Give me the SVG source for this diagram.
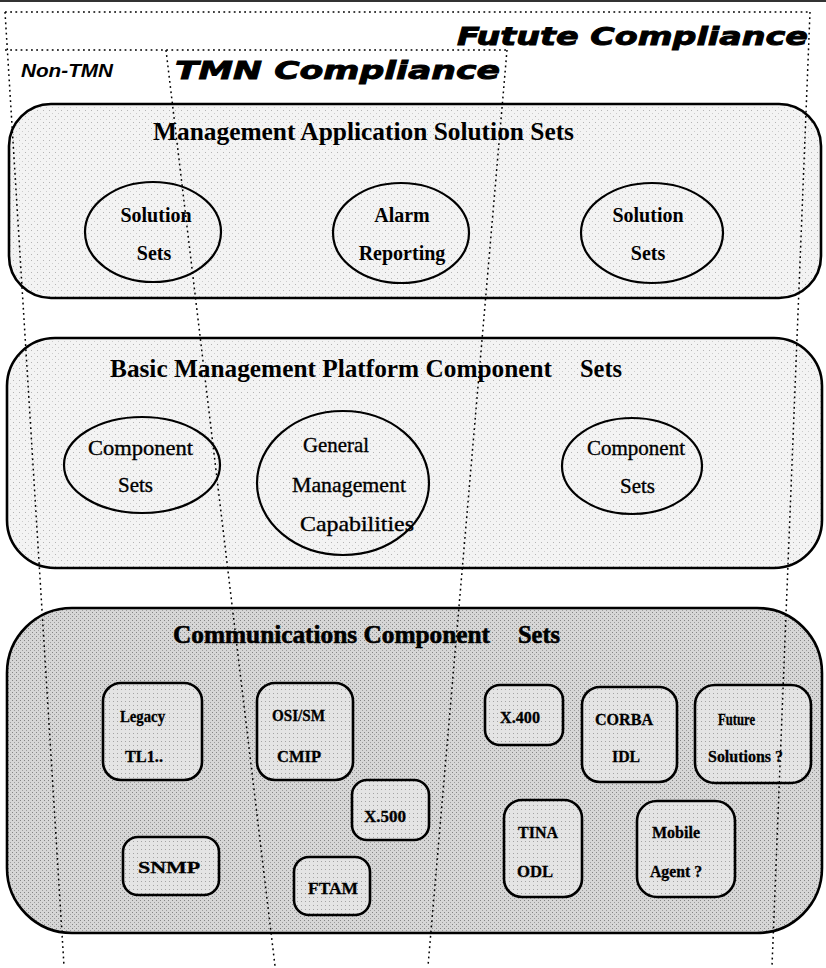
<svg xmlns="http://www.w3.org/2000/svg" width="826" height="968" viewBox="0 0 826 968">
  <defs>
    <!-- light speckled shading for the upper layers -->
    <pattern id="speckleLight" width="6" height="6" patternUnits="userSpaceOnUse">
      <rect width="6" height="6" fill="#f3f3f3"/>
      <rect x="1" y="2" width="1" height="1" fill="#b4b4b4"/>
      <rect x="4" y="5" width="1" height="1" fill="#cccccc"/>
    </pattern>
    <!-- denser halftone for the communications layer -->
    <pattern id="speckleDark" width="4" height="4" patternUnits="userSpaceOnUse">
      <rect width="4" height="4" fill="#d6d6d6"/>
      <rect x="0" y="0" width="1" height="1" fill="#848484"/>
      <rect x="2" y="2" width="1" height="1" fill="#9c9c9c"/>
    </pattern>
    <pattern id="speckleBox" width="4" height="4" patternUnits="userSpaceOnUse">
      <rect width="4" height="4" fill="#e4e4e4"/>
      <rect x="1" y="1" width="1" height="1" fill="#a4a4a4"/>
    </pattern>
    <style>
      .layer { stroke: #000; stroke-width: 2.6; }
      .set { fill: none; stroke: #000; stroke-width: 2.2; }
      .proto { fill: url(#speckleBox); stroke: #000; stroke-width: 2.6; }
      .title { font-family: "Liberation Serif", "Times New Roman", serif; font-weight: bold; font-size: 25px; fill: #000; }
      .heavy { stroke: #000; stroke-width: 0.6; }
      .zone { font-family: "DejaVu Sans", "Verdana", sans-serif; font-weight: bold; font-style: italic; fill: #000; stroke: #000; stroke-width: 0.9; }
      .narrow { font-family: "Liberation Sans", Arial, sans-serif; font-weight: bold; font-style: italic; font-size: 19px; fill: #000; }
      .lbl { font-family: "Liberation Serif", "Times New Roman", serif; font-weight: bold; font-size: 20px; fill: #000; text-anchor: middle; }
      .lblr { font-family: "Liberation Serif", "Times New Roman", serif; font-size: 21px; fill: #000; stroke: #000; stroke-width: 0.35; }
      .sm { font-family: "Liberation Serif", "Times New Roman", serif; font-weight: bold; font-size: 16px; fill: #000; stroke: #000; stroke-width: 0.3; }
      .bound { fill: none; stroke: #000; stroke-width: 1.5; stroke-dasharray: 1.8 3.4; }
    </style>
  </defs>

  <rect width="826" height="968" fill="#ffffff"/>
  <line x1="0" y1="1" x2="826" y2="1" stroke="#333" stroke-width="2"/>

  <!-- compliance zone headings -->
  <g id="zone-labels">
    <text class="zone" x="457" y="45" font-size="24" textLength="351" lengthAdjust="spacingAndGlyphs">Futute Compliance</text>
    <text class="narrow" x="21" y="77" textLength="92" lengthAdjust="spacingAndGlyphs">Non-TMN</text>
    <text class="zone" x="175" y="79" font-size="25" textLength="325" lengthAdjust="spacingAndGlyphs">TMN Compliance</text>
  </g>

  <!-- layer 1: management applications -->
  <g id="management-application-solution-sets">
    <rect class="layer" x="9" y="104" width="812" height="194" rx="42" ry="42" fill="url(#speckleLight)"/>
    <text class="title" x="153" y="140" font-size="26" textLength="421" lengthAdjust="spacingAndGlyphs">Management Application Solution Sets</text>
  </g>
  <g id="solution-sets-left">
    <ellipse class="set" cx="153" cy="232" rx="68" ry="50"/>
    <text class="lbl" x="156" y="222">Solution</text>
    <text class="lbl" x="154" y="260">Sets</text>
  </g>
  <g id="alarm-reporting">
    <ellipse class="set" cx="401" cy="233" rx="68" ry="50"/>
    <text class="lbl" x="402" y="222">Alarm</text>
    <text class="lbl" x="402" y="260">Reporting</text>
  </g>
  <g id="solution-sets-right">
    <ellipse class="set" cx="652" cy="233" rx="71" ry="50"/>
    <text class="lbl" x="648" y="222">Solution</text>
    <text class="lbl" x="648" y="260">Sets</text>
  </g>

  <!-- layer 2: platform components -->
  <g id="basic-management-platform-component-sets">
    <rect class="layer" x="7" y="338" width="815" height="230" rx="48" ry="48" fill="url(#speckleLight)"/>
    <text class="title" x="110" y="377" textLength="442" lengthAdjust="spacingAndGlyphs">Basic Management Platform Component</text>
    <text class="title" x="580" y="377" textLength="42" lengthAdjust="spacingAndGlyphs">Sets</text>
  </g>
  <g id="component-sets-left">
    <ellipse class="set" cx="142" cy="465" rx="78" ry="48"/>
    <text class="lblr" x="88" y="455" textLength="105" lengthAdjust="spacingAndGlyphs">Component</text>
    <text class="lblr" x="118" y="492" textLength="35" lengthAdjust="spacingAndGlyphs">Sets</text>
  </g>
  <g id="general-management-capabilities">
    <ellipse class="set" cx="343" cy="483" rx="86" ry="72"/>
    <text class="lblr" x="303" y="452" textLength="66" lengthAdjust="spacingAndGlyphs">General</text>
    <text class="lblr" x="292" y="492" textLength="114" lengthAdjust="spacingAndGlyphs">Management</text>
    <text class="lblr" x="300" y="531" textLength="114" lengthAdjust="spacingAndGlyphs">Capabilities</text>
  </g>
  <g id="component-sets-right">
    <ellipse class="set" cx="632" cy="466" rx="70" ry="48"/>
    <text class="lblr" x="587" y="455" textLength="98" lengthAdjust="spacingAndGlyphs">Component</text>
    <text class="lblr" x="620" y="493" textLength="35" lengthAdjust="spacingAndGlyphs">Sets</text>
  </g>

  <!-- layer 3: communication protocols -->
  <g id="communications-component-sets">
    <rect class="layer" x="7" y="608" width="815" height="325" rx="65" ry="65" fill="url(#speckleDark)"/>
    <text class="title heavy" x="173" y="643" textLength="317" lengthAdjust="spacingAndGlyphs">Communications Component</text>
    <text class="title heavy" x="518" y="643" textLength="42" lengthAdjust="spacingAndGlyphs">Sets</text>
  </g>
  <g id="legacy-tl1">
    <rect class="proto" x="103" y="683" width="99" height="97" rx="18"/>
    <text class="sm" x="120" y="722" font-size="15" textLength="45" lengthAdjust="spacingAndGlyphs">Legacy</text>
    <text class="sm" x="125" y="762" textLength="38" lengthAdjust="spacingAndGlyphs">TL1..</text>
  </g>
  <g id="osi-sm-cmip">
    <rect class="proto" x="257" y="683" width="96" height="97" rx="18"/>
    <text class="sm" x="272" y="721" textLength="53" lengthAdjust="spacingAndGlyphs">OSI/SM</text>
    <text class="sm" x="277" y="762" textLength="44" lengthAdjust="spacingAndGlyphs">CMIP</text>
  </g>
  <g id="x500">
    <rect class="proto" x="352" y="780" width="77" height="60" rx="15"/>
    <text class="sm" x="364" y="822" textLength="42" lengthAdjust="spacingAndGlyphs">X.500</text>
  </g>
  <g id="snmp">
    <rect class="proto" x="123" y="837" width="96" height="58" rx="15"/>
    <text class="sm" x="138" y="873" textLength="62" lengthAdjust="spacingAndGlyphs">SNMP</text>
  </g>
  <g id="ftam">
    <rect class="proto" x="294" y="857" width="76" height="58" rx="15"/>
    <text class="sm" x="308" y="894" textLength="50" lengthAdjust="spacingAndGlyphs">FTAM</text>
  </g>
  <g id="x400">
    <rect class="proto" x="485" y="685" width="78" height="60" rx="15"/>
    <text class="sm" x="500" y="723" textLength="40" lengthAdjust="spacingAndGlyphs">X.400</text>
  </g>
  <g id="corba-idl">
    <rect class="proto" x="582" y="687" width="95" height="95" rx="18"/>
    <text class="sm" x="595" y="725" textLength="58" lengthAdjust="spacingAndGlyphs">CORBA</text>
    <text class="sm" x="612" y="762" textLength="28" lengthAdjust="spacingAndGlyphs">IDL</text>
  </g>
  <g id="future-solutions">
    <rect class="proto" x="695" y="685" width="116" height="98" rx="20"/>
    <text class="sm" x="718" y="725" font-size="14" textLength="37" lengthAdjust="spacingAndGlyphs">Future</text>
    <text class="sm" x="708" y="762" font-size="14" textLength="75" lengthAdjust="spacingAndGlyphs">Solutions ?</text>
  </g>
  <g id="tina-odl">
    <rect class="proto" x="504" y="800" width="78" height="97" rx="18"/>
    <text class="sm" x="518" y="838" textLength="40" lengthAdjust="spacingAndGlyphs">TINA</text>
    <text class="sm" x="517" y="877" textLength="36" lengthAdjust="spacingAndGlyphs">ODL</text>
  </g>
  <g id="mobile-agent">
    <rect class="proto" x="637" y="801" width="98" height="96" rx="20"/>
    <text class="sm" x="652" y="838" font-size="15" textLength="48" lengthAdjust="spacingAndGlyphs">Mobile</text>
    <text class="sm" x="650" y="877" font-size="15" textLength="52" lengthAdjust="spacingAndGlyphs">Agent ?</text>
  </g>

  <!-- dotted zone boundaries drawn over all layers -->
  <g id="zone-boundaries">
    <path class="bound" d="M5 12 H810"/>
    <path class="bound" d="M5 50 H507"/>
    <path class="bound" d="M5 12 L64 966"/>
    <path class="bound" d="M166 50 L275 966"/>
    <path class="bound" d="M507 50 L428 966"/>
    <path class="bound" d="M810 12 L772 966"/>
  </g>
</svg>
